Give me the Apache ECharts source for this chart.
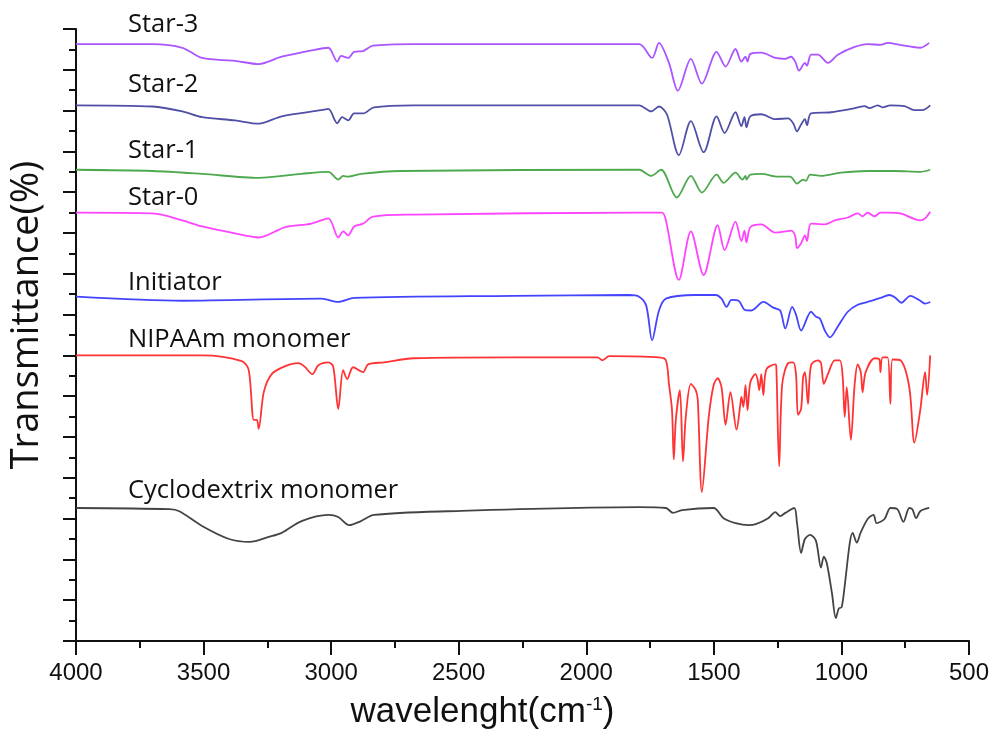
<!DOCTYPE html>
<html>
<head>
<meta http-equiv="Content-Type" content="text/html; charset=utf-8" />
<title>FTIR spectra</title>
<style type="text/css">
  html, body {height:100%; margin:0; padding:0; background:#fff;}
  #main {width:992px; height:735px;}
</style>
<script type="text/javascript" src="https://cdn.jsdelivr.net/npm/echarts@6/dist/echarts.min.js"></script>
</head>
<body>
<div id="main"></div>
<script type="text/javascript">
// x: wavenumber (cm-1), y: transmittance with vertical offsets (arbitrary units, 0-150)
var xTicks = [4000, 3500, 3000, 2500, 2000, 1500, 1000, 500];

var star3 = [
  [4000,146.3],[3700,146.3],[3583,145.4],[3506,142.9],[3377,142.2],[3284,141.4],[3194,143.2],
  [3066,144.9],[3011,145.4],[2976,142.0],[2961,143.4],[2933,142.9],[2910,144.4],[2875,144.6],
  [2836,145.9],[2676,146.3],[2338,146.3],[1793,146.3],[1742,142.9],[1715,146.6],[1676,141.7],
  [1641,134.9],[1590,142.7],[1547,136.6],[1489,144.4],[1454,140.8],[1415,145.1],[1392,142.0],
  [1376,143.2],[1368,142.0],[1357,143.9],[1314,144.2],[1259,142.9],[1220,142.7],[1197,143.2],
  [1181,142.0],[1166,139.8],[1143,141.7],[1135,141.0],[1119,143.7],[1092,143.7],[1053,141.7],
  [1014,143.7],[948,145.6],[897,146.3],[847,146.1],[819,146.6],[769,146.1],[691,145.4],[656,146.6]
];

var star2 = [
  [4000,131.3],[3700,131.0],[3583,129.8],[3506,128.4],[3377,127.6],[3284,126.8],[3194,128.6],
  [3038,130.1],[3011,130.4],[2976,126.9],[2957,128.4],[2933,127.6],[2910,129.3],[2875,129.3],
  [2832,130.8],[2676,131.3],[1793,131.3],[1746,129.8],[1715,131.0],[1684,129.1],[1637,119.1],
  [1590,127.4],[1540,119.8],[1489,128.6],[1458,124.5],[1415,129.6],[1392,126.2],[1380,128.4],
  [1372,125.9],[1357,128.6],[1314,129.1],[1259,127.9],[1209,128.1],[1189,126.9],[1174,124.9],
  [1158,126.6],[1143,127.9],[1135,126.4],[1119,129.3],[1041,129.6],[963,130.4],[909,131.1],
  [890,130.6],[858,131.3],[839,130.8],[808,131.3],[753,131.1],[714,130.1],[683,130.1],[652,131.3]
];

var star1 = [
  [4000,115.5],[3700,115.2],[3506,114.5],[3284,113.5],[3116,114.5],[3011,115.0],[2972,113.1],
  [2953,114.0],[2933,113.8],[2883,114.5],[2727,115.2],[1793,115.5],[1746,114.0],[1707,115.5],
  [1645,108.7],[1590,114.0],[1547,109.9],[1489,114.3],[1462,112.3],[1415,114.8],[1388,113.1],
  [1376,114.0],[1372,113.1],[1357,114.3],[1314,114.5],[1248,113.8],[1201,113.8],[1174,112.1],
  [1150,113.1],[1139,112.8],[1123,114.3],[1080,114.0],[1002,114.8],[897,115.2],[792,115.2],
  [691,115.0],[652,115.5]
];

var star0 = [
  [4000,105.0],[3700,104.8],[3583,103.1],[3506,101.6],[3377,99.9],[3284,98.9],[3182,101.4],
  [3077,102.3],[3011,103.6],[2972,98.9],[2953,100.4],[2933,99.4],[2910,101.6],[2875,102.3],
  [2836,104.0],[2676,104.5],[1793,105.0],[1703,105.0],[1688,103.1],[1637,88.5],[1590,100.4],
  [1540,89.7],[1485,101.9],[1458,95.8],[1415,102.8],[1392,98.0],[1380,100.6],[1372,97.7],
  [1357,101.4],[1314,102.1],[1259,100.1],[1220,100.4],[1197,100.6],[1181,99.2],[1174,96.3],
  [1158,97.5],[1143,99.4],[1135,98.0],[1119,102.3],[1065,102.1],[1026,103.1],[975,103.8],
  [936,104.8],[917,104.1],[897,105.0],[870,104.1],[847,105.0],[819,105.0],[769,104.8],
  [691,103.1],[672,103.6],[652,105.2]
];

var initiator = [
  [4000,84.4],[3583,83.4],[3038,83.9],[2972,83.1],[2910,84.1],[2287,84.6],[1832,84.8],
  [1793,84.4],[1765,82.2],[1742,73.7],[1715,81.0],[1688,83.9],[1571,84.8],[1493,84.8],
  [1470,83.9],[1450,81.9],[1431,83.6],[1403,83.4],[1380,81.2],[1353,81.0],[1306,83.1],
  [1267,81.7],[1240,81.0],[1220,76.6],[1193,81.9],[1178,80.0],[1158,76.1],[1119,80.7],
  [1100,79.5],[1084,79.0],[1065,76.1],[1045,74.4],[1014,77.1],[975,80.7],[936,82.4],
  [897,83.1],[847,84.1],[812,84.8],[788,84.1],[765,82.9],[730,84.6],[691,83.4],[672,82.7],[652,83.1]
];

var nipaam = [
  [4000,70.0],[3506,70.0],[3350,68.6],[3323,66.4],[3303,54.2],[3291,54.2],[3284,52.0],
  [3264,61.0],[3233,65.4],[3182,67.3],[3128,68.1],[3105,67.3],[3073,65.4],[3050,67.6],
  [3011,68.3],[2992,67.3],[2972,56.9],[2953,66.4],[2937,64.2],[2914,67.1],[2875,65.9],
  [2855,67.8],[2793,68.3],[2676,69.3],[2287,69.5],[1956,69.5],[1937,68.8],[1910,69.8],
  [1715,69.5],[1688,68.8],[1676,63.0],[1664,56.6],[1657,44.5],[1649,54.2],[1633,61.5],
  [1621,44.0],[1610,54.9],[1590,63.0],[1571,61.5],[1563,59.1],[1547,36.5],[1520,54.9],
  [1501,62.7],[1485,64.4],[1470,62.2],[1454,53.0],[1435,61.0],[1411,51.8],[1396,58.1],
  [1392,59.8],[1384,57.4],[1376,62.7],[1368,56.6],[1357,63.4],[1337,65.4],[1329,64.2],
  [1322,61.5],[1314,65.4],[1306,60.3],[1294,66.6],[1259,67.8],[1255,67.1],[1244,42.8],
  [1232,63.0],[1209,68.1],[1189,68.3],[1178,65.4],[1170,55.4],[1158,56.9],[1150,64.7],
  [1143,65.9],[1131,58.1],[1119,67.6],[1092,68.8],[1080,68.1],[1069,63.0],[1053,65.4],
  [1026,68.8],[1006,68.8],[995,64.7],[987,54.9],[979,62.2],[963,49.3],[948,63.0],
  [936,67.8],[924,65.9],[917,61.0],[905,65.9],[870,69.3],[851,69.0],[847,65.9],[839,69.5],
  [819,69.5],[808,58.1],[800,69.0],[769,68.8],[734,62.2],[714,48.6],[691,56.6],[672,65.9],
  [664,60.3],[652,70.0]
];

var cyclo = [
  [4000,32.6],[3634,32.3],[3595,31.8],[3506,28.2],[3400,25.0],[3319,24.3],[3245,25.5],
  [3194,26.5],[3116,29.4],[3011,30.9],[2972,30.4],[2929,28.4],[2883,29.4],[2832,30.9],
  [2544,31.8],[1793,32.8],[1688,32.6],[1660,31.4],[1625,32.1],[1501,32.6],[1462,30.1],
  [1415,28.9],[1364,28.4],[1333,28.7],[1287,30.1],[1259,31.6],[1240,30.6],[1220,31.4],
  [1185,32.6],[1174,28.9],[1158,21.6],[1143,25.0],[1123,26.0],[1100,24.6],[1080,18.0],
  [1069,20.7],[1057,19.0],[1037,11.7],[1022,5.6],[1010,8.0],[999,8.3],[987,13.6],
  [967,24.1],[956,26.5],[940,24.1],[925,26.5],[897,29.9],[874,30.9],[862,28.9],[831,29.9],
  [808,32.6],[781,32.3],[757,29.2],[734,32.6],[722,32.3],[707,30.1],[691,31.8],[656,32.6]
];

var names  = ['Star-3', 'Star-2', 'Star-1', 'Star-0', 'Initiator', 'NIPAAm monomer', 'Cyclodextrix monomer'];
var colors = ['#aa55ff', '#4f4fa8', '#4ea84e', '#ff44ff', '#4444ff', '#ff3333', '#444444'];
var curves = [star3, star2, star1, star0, initiator, nipaam, cyclo];
var labelY = [25, 85, 151, 198, 283, 340, 491];  // label centre, px

var myChart = echarts.init(document.getElementById('main'));

var series = [];
var graphics = [];
for (var i = 0; i < curves.length; i++) {
  series.push({
    name: names[i],
    type: 'line',
    data: curves[i],
    showSymbol: false,
    smooth: 0.3,
    lineStyle: {color: colors[i], width: 1.8},
    animation: false
  });
  graphics.push({
    type: 'text',
    style: {
      text: names[i],
      x: 128,
      y: labelY[i],
      verticalAlign: 'middle',
      font: '25.5px "Open Sans"',
      fill: '#111'
    }
  });
}

myChart.setOption({
  backgroundColor: '#fff',
  animation: false,
  grid: {left: 73, right: 20, top: 29, bottom: 89},
  xAxis: {
    type: 'value',
    inverse: true,
    min: 500,
    max: 4000,
    interval: 500,
    name: 'wavelenght(cm{sup|-1})',
    nameLocation: 'middle',
    nameGap: 54,
    nameTextStyle: {
      fontFamily: 'Liberation Sans',
      fontSize: 35,
      color: '#111',
      padding: [0, 80, 0, 0],
      rich: {sup: {fontSize: 19, verticalAlign: 'top', padding: [0, 0, 16, 0], fontFamily: 'Liberation Sans', color: '#111'}}
    },
    axisLine: {lineStyle: {color: '#111', width: 2}},
    axisTick: {inside: false, length: 14, lineStyle: {width: 2, color: '#111'}},
    minorTick: {show: true, splitNumber: 2, length: 7, lineStyle: {width: 2, color: '#111'}},
    axisLabel: {
      margin: 20,
      fontFamily: 'Liberation Sans',
      fontSize: 24,
      color: '#111',
      formatter: function (v) { return xTicks.indexOf(v) >= 0 ? String(v) : ''; }
    },
    splitLine: {show: false}
  },
  yAxis: {
    type: 'value',
    min: 0,
    max: 150,
    interval: 10,
    name: 'Transmittance(%)',
    nameLocation: 'middle',
    nameGap: 30,
    nameTextStyle: {
      fontFamily: 'Open Sans',
      fontSize: 38,
      color: '#111',
      padding: [0, 0, 0, 40]
    },
    axisLine: {show: true, lineStyle: {color: '#111', width: 2}},
    axisTick: {show: true, inside: false, length: 13, lineStyle: {width: 2, color: '#111'}},
    minorTick: {show: true, splitNumber: 2, length: 7, lineStyle: {width: 2, color: '#111'}},
    axisLabel: {show: false},
    splitLine: {show: false}
  },
  graphic: graphics,
  series: series
});
</script>
</body>
</html>
